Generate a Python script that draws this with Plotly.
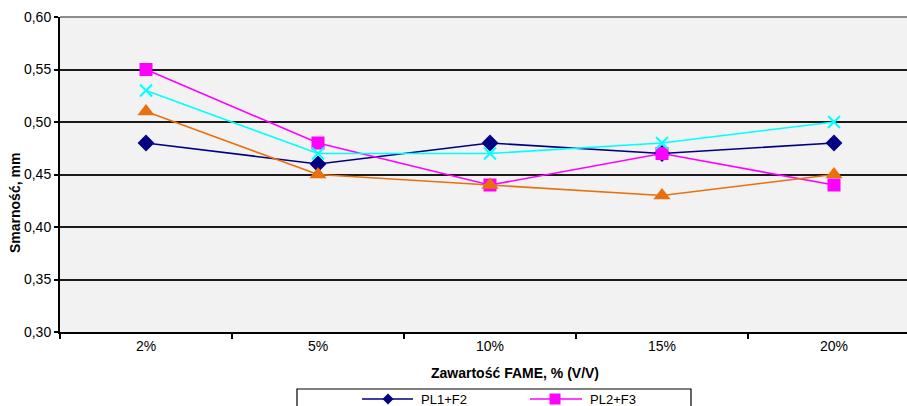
import plotly.graph_objects as go

# FAME content categories
categories = ["2%", "5%", "10%", "15%", "20%"]

# Lubricity (wear scar), mm
pl1_f2 = [0.48, 0.46, 0.48, 0.47, 0.48]
pl2_f3 = [0.55, 0.48, 0.44, 0.47, 0.44]
series_3 = [0.51, 0.45, 0.44, 0.43, 0.45]
series_4 = [0.53, 0.47, 0.47, 0.48, 0.50]

W, H = 907, 406
L, R, T, B = 60, 0, 17, 74
PW, PH = W - L - R, H - T - B

FONT = "Liberation Sans, Arial, sans-serif"

def px_x(x):
    return (x - L) / PW

def px_y(y):
    return (H - B - y) / PH

fig = go.Figure()

styles = [
    ("PL1+F2", pl1_f2, "#000080", "diamond", 13),
    ("PL2+F3", pl2_f3, "#FF00FF", "square", 13),
    ("seria 3", series_3, "#E8700E", "triangle-up", 15),
    ("seria 4", series_4, "#00FFFF", "x-thin", 12),
]

for name, vals, color, sym, size in styles:
    fig.add_trace(go.Scatter(
        x=categories, y=vals, name=name, mode="lines+markers",
        line=dict(color=color, width=1.6),
        marker=dict(symbol=sym, size=size, color=color,
                    line=dict(color=color, width=2 if sym == "x-thin" else 0)),
        showlegend=False,
    ))

shapes = []
annotations = []

# top border of plot area
shapes.append(dict(type="line", xref="paper", yref="paper", x0=0, x1=1, y0=1, y1=1,
                   line=dict(color="#8c8c8c", width=2)))

# legend box (continues below the visible area)
shapes.append(dict(type="rect", xref="paper", yref="paper",
                   x0=px_x(297), x1=px_x(691), y0=px_y(430), y1=px_y(389),
                   line=dict(color="black", width=1.2), fillcolor="white"))

legend_items = [
    (styles[0], 362, 413, 388, 419),
    (styles[1], 530, 582, 555, 588),
]
for (name, vals, color, sym, size), x0, x1, xm, xt in legend_items:
    ly = 399
    shapes.append(dict(type="line", xref="paper", yref="paper",
                       x0=px_x(x0), x1=px_x(x1), y0=px_y(ly), y1=px_y(ly),
                       line=dict(color=color, width=1.6)))
    if sym == "diamond":
        d = 5.5
        path = (f"M {px_x(xm)} {px_y(ly - d)} L {px_x(xm + d)} {px_y(ly)} "
                f"L {px_x(xm)} {px_y(ly + d)} L {px_x(xm - d)} {px_y(ly)} Z")
        shapes.append(dict(type="path", xref="paper", yref="paper", path=path,
                           fillcolor=color, line=dict(color=color, width=0)))
    else:
        d = 5.5
        shapes.append(dict(type="rect", xref="paper", yref="paper",
                           x0=px_x(xm - d), x1=px_x(xm + d),
                           y0=px_y(ly + d), y1=px_y(ly - d),
                           fillcolor=color, line=dict(color=color, width=0)))
    annotations.append(dict(xref="paper", yref="paper", x=px_x(xt), y=px_y(ly),
                            text=name, showarrow=False, xanchor="left", yanchor="middle",
                            font=dict(family=FONT, size=13, color="black")))

# axis titles
annotations.append(dict(xref="paper", yref="paper", x=px_x(515), y=px_y(373),
                        text="<b>Zawartość FAME, % (V/V)</b>", showarrow=False,
                        xanchor="center", yanchor="middle",
                        font=dict(family=FONT, size=14, color="black")))
annotations.append(dict(xref="paper", yref="paper", x=px_x(15), y=px_y(203),
                        text="<b>Smarność, mm</b>", showarrow=False, textangle=-90,
                        xanchor="center", yanchor="middle",
                        font=dict(family=FONT, size=14, color="black")))

band = 172.0
fig.update_layout(
    width=W, height=H,
    margin=dict(l=L, r=R, t=T, b=B, pad=0),
    paper_bgcolor="white", plot_bgcolor="#F2F2F2",
    separators=", ",
    font=dict(family=FONT, size=14, color="black"),
    shapes=shapes, annotations=annotations,
    xaxis=dict(type="category", range=[-0.5, -0.5 + PW / band],
               tickson="boundaries", ticks="outside", ticklen=5, tickwidth=1.5,
               tickcolor="black", showgrid=False, showline=True, linecolor="black",
               linewidth=2, tickfont=dict(family=FONT, size=14, color="black"),
               zeroline=False, fixedrange=True),
    yaxis=dict(range=[0.30, 0.60], dtick=0.05, tick0=0.30, tickformat=".2f",
               ticks="outside", ticklen=4, tickwidth=1.5, tickcolor="black",
               showgrid=True, gridcolor="#1a1a1a", gridwidth=1.6,
               showline=True, linecolor="black", linewidth=2,
               tickfont=dict(family=FONT, size=14, color="black"),
               zeroline=False, fixedrange=True),
)

fig.write_html("out.html")
